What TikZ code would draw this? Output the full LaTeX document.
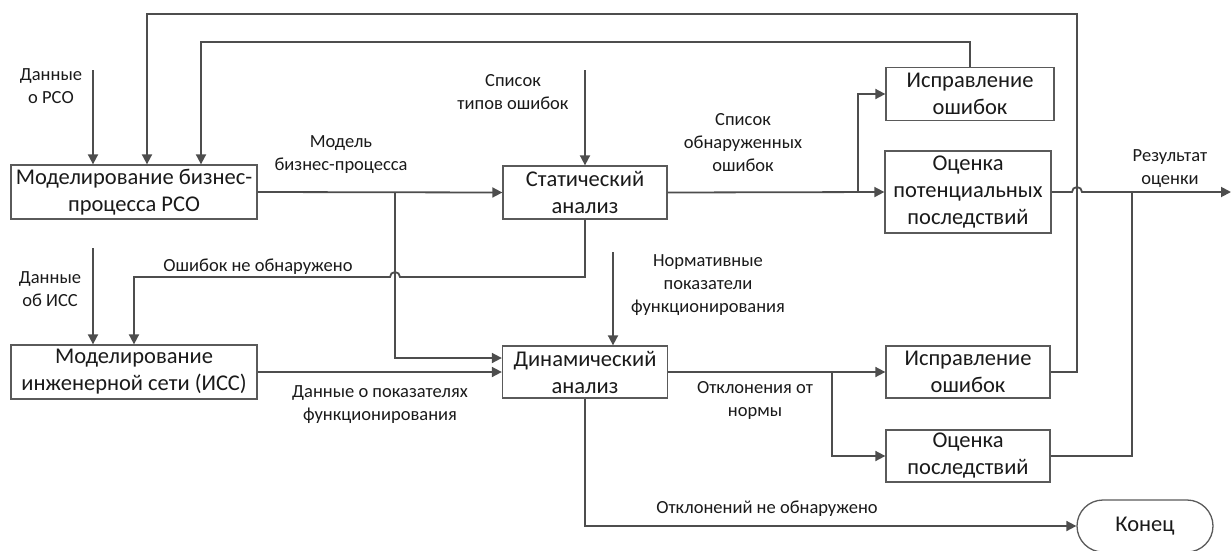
\documentclass[tikz,border=0pt]{standalone}
\usepackage{fontspec}
\setmainfont{Carlito}
\usetikzlibrary{arrows.meta,shapes.misc}
\definecolor{ln}{HTML}{4D4D4D}
\definecolor{bx}{HTML}{5A5A5A}
\definecolor{tx}{HTML}{1A1A1A}
\begin{document}
\begin{tikzpicture}[x=1pt,y=-1pt,
  proc/.style={draw=bx,line width=1.3pt,fill=white,text=tx,align=center,inner sep=0pt,
     font=\fontsize{22.5}{27}\selectfont},
  lbl/.style={text=tx,align=center,inner sep=0pt,font=\fontsize{18.5}{23}\selectfont},
  conn/.style={draw=ln,line width=1.8pt},
  arr/.style={conn,-{Triangle[length=10pt,width=10pt]}}]
\useasboundingbox (0,0) rectangle (1232,550);
% boxes
\node[proc,minimum width=246pt,minimum height=54pt] (m1) at (134,192) {Моделирование бизнес-\\процесса РСО};
\node[proc,minimum width=164pt,minimum height=53pt] (s) at (585,192.5) {Статический\\анализ};
\node[proc,minimum width=168pt,minimum height=53pt] (i1) at (970,94) {Исправление\\ошибок};
\node[proc,minimum width=166pt,minimum height=82pt] (o1) at (968,192) {Оценка\\потенциальных\\последствий};
\node[proc,minimum width=246pt,minimum height=54pt] (m2) at (134,372) {Моделирование\\инженерной сети (ИСС)};
\node[proc,minimum width=165pt,minimum height=52pt] (d) at (585,372) {Динамический\\анализ};
\node[proc,minimum width=164pt,minimum height=52pt] (i2) at (968,372) {Исправление\\ошибок};
\node[proc,minimum width=164pt,minimum height=52pt] (o2) at (968,456) {Оценка\\последствий};
\node[proc,rounded rectangle,minimum width=136pt,minimum height=52pt] (k) at (1145,526) {Конец};
% coordinates
\coordinate (d1) at (93,70);
\coordinate (d2) at (93,248);
\coordinate (st) at (585,70);
\coordinate (nm) at (613,252);
\coordinate (top1) at (1077,14);
\coordinate (top2) at (970,42);
\coordinate (br1) at (395,192);
\coordinate (br2) at (858,192);
\coordinate (br3) at (832,372);
\coordinate (rs) at (1231,192);
% connectors
\draw[arr] (d1) -- (d1 |- m1.north);
\draw[arr] (d2) -- (d2 |- m2.north);
\draw[arr] (st) -- (s.north);
\draw[arr] (nm) -- (nm |- d.north);
\draw[arr] (i2.east) -- (1077,372) -- (top1) -- (147,14) -- (147,0 |- m1.north);
\draw[arr] (i1.north) -- (top2) -- (201,42) -- (201,0 |- m1.north);
\draw[arr] (m1.east) -- (s.west);
\draw[arr] (br1) -- (395,358) -- (d.west |- 0,358);
\draw[arr] (s.south) -- (585,277) -- (400,277) arc[start angle=0,end angle=180,radius=5pt] -- (134,277) -- (134,0 |- m2.north);
\draw[arr] (m2.east) -- (d.west);
\draw[arr] (s.east) -- (o1.west);
\draw[arr] (br2) -- (858,94) -- (i1.west);
\draw[arr] (o1.east) -- (1072,192) arc[start angle=180,end angle=0,radius=5pt] -- (rs);
\draw[conn] (o2.east) -- (1132,456) -- (1132,192);
\draw[arr] (d.east) -- (i2.west);
\draw[arr] (br3) -- (832,456) -- (o2.west);
\draw[arr] (d.south) -- (585,526) -- (k.west);
% labels
\node[lbl] (l1) at (51,86) {Данные\\о РСО};
\node[lbl] (l2) at (341,154.5) {Модель\\бизнес-процесса};
\node[lbl] (l3) at (513,92.5) {Список\\типов ошибок};
\node[lbl] (l4) at (743,143) {Список\\обнаруженных\\ошибок};
\node[lbl] (l5) at (1170,168.5) {Результат\\оценки};
\node[lbl] (l6) at (50,289.5) {Данные\\об ИСС};
\node[lbl] (l7) at (258,267) {Ошибок не обнаружено};
\node[lbl] (l8) at (708,285) {Нормативные\\показатели\\функционирования};
\node[lbl] (l9) at (380,404.5) {Данные о показателях\\функционирования};
\node[lbl] (l10) at (755,400) {Отклонения от\\нормы};
\node[lbl] (l11) at (767,509) {Отклонений не обнаружено};
\end{tikzpicture}
\end{document}
